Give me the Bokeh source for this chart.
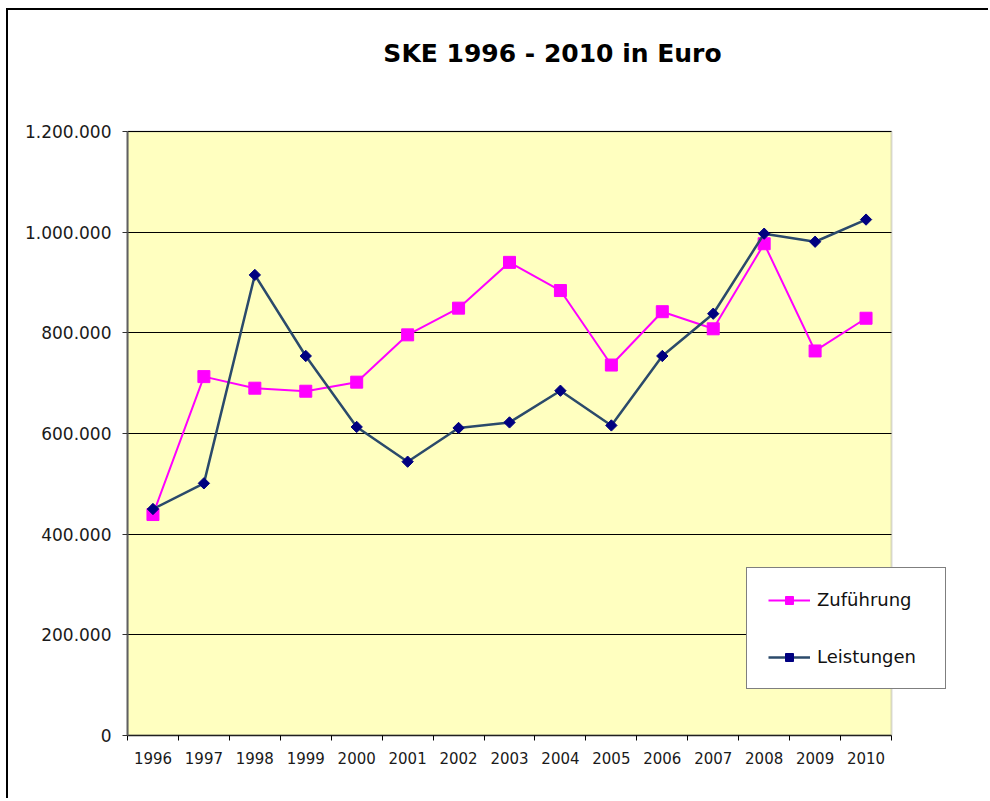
import math
from bokeh.plotting import figure
from bokeh.models import FixedTicker, Range1d, Label, Legend, LegendItem, BoxAnnotation
from bokeh.embed import file_html
from bokeh.resources import INLINE

# ---- data ----
years = [1996, 1997, 1998, 1999, 2000, 2001, 2002, 2003, 2004, 2005, 2006, 2007, 2008, 2009, 2010]
zufuehrung = [439000, 713000, 690000, 684000, 702000, 796000, 849000, 940000,
              884000, 736000, 842000, 808000, 977000, 764000, 829000]
leistungen = [450000, 501000, 915000, 754000, 613000, 544000, 611000, 622000,
              685000, 616000, 754000, 838000, 997000, 981000, 1025000]
y_ticks = [0, 200000, 400000, 600000, 800000, 1000000, 1200000]
y_tick_labels = ["0", "200.000", "400.000", "600.000", "800.000", "1.000.000", "1.200.000"]
x_tick_labels = ["1996", "1997", "1998", "1999", "2000", "2001", "2002", "2003",
                 "2004", "2005", "2006", "2007", "2008", "2009", "2010"]
title_text = "SKE 1996 - 2010 in Euro"
series_names = ["Zuführung", "Leistungen"]

FONT = "DejaVu Sans"

# layout (pixels): plot area 764 x 604 px inside a larger frame
AREA_W, AREA_H = 764, 604
FRAME_W, FRAME_H = 835, 715
x_start = years[0] - 0.5
x_area_end = years[-1] + 0.5
x_end = x_start + (x_area_end - x_start) * FRAME_W / AREA_W
y_end = y_ticks[-1] * FRAME_H / AREA_H

p = figure(width=982, height=790, output_backend="svg", toolbar_location=None,
           x_range=Range1d(x_start, x_end), y_range=Range1d(0, y_end),
           min_border_left=119, min_border_right=28, min_border_top=10, min_border_bottom=65,
           background_fill_color="white", border_fill_color="white")
p.styles = {"margin-left": "6px", "margin-top": "8px",
            "border-left": "2px solid black", "border-top": "2px solid black"}
p.outline_line_color = None

# yellow plot area
area = BoxAnnotation(left=x_start, right=x_area_end, bottom=0, top=y_ticks[-1],
                     fill_color="#FFFFC0", fill_alpha=1,
                     line_color="#808080", line_width=2, level="image")
p.add_layout(area)

# x axis: labels at year centres, tick marks between categories
boundaries = [y - 0.5 for y in years] + [years[-1] + 0.5]
p.xaxis.bounds = (x_start, x_area_end)
p.xaxis.ticker = FixedTicker(ticks=years, minor_ticks=boundaries)
p.xaxis.major_label_overrides = {y: s for y, s in zip(years, x_tick_labels)}
p.xaxis.major_tick_line_color = None
p.xaxis.major_tick_in = 0
p.xaxis.major_tick_out = 0
p.xaxis.minor_tick_in = 0
p.xaxis.minor_tick_out = 5
p.xaxis.minor_tick_line_color = "black"
p.xaxis.axis_line_color = "#202020"
p.xaxis.axis_line_width = 1.5
p.xaxis.major_label_standoff = 11
p.xaxis.major_label_text_font = FONT
p.xaxis.major_label_text_font_size = "15px"
p.xaxis.major_label_text_color = "#1a1a1a"

# y axis
p.yaxis.bounds = (y_ticks[0], y_ticks[-1])
p.yaxis.ticker = FixedTicker(ticks=y_ticks, minor_ticks=[])
p.yaxis.major_label_overrides = {v: s for v, s in zip(y_ticks, y_tick_labels)}
p.yaxis.major_tick_in = 0
p.yaxis.major_tick_out = 5
p.yaxis.major_tick_line_color = "#303030"
p.yaxis.axis_line_color = "#606060"
p.yaxis.axis_line_width = 2
p.yaxis.major_label_standoff = 11
p.yaxis.major_label_text_font = FONT
p.yaxis.major_label_text_font_size = "17px"
p.yaxis.major_label_text_color = "#1a1a1a"

p.xgrid.visible = False
p.ygrid.grid_line_color = "black"
p.ygrid.grid_line_width = 1
p.ygrid.cross_bounds = (x_start, x_area_end)

# series
r1 = p.line(years, zufuehrung, line_color="#FF00FF", line_width=2)
r2 = p.scatter(years, zufuehrung, marker="square", size=12,
               fill_color="#FF00FF", line_color="#FF00FF")
r3 = p.line(years, leistungen, line_color="#2B4A6B", line_width=2.5)
r4 = p.scatter(years, leistungen, marker="square", size=8, angle=math.pi / 4,
               fill_color="#000080", line_color="#000080")

legend = Legend(items=[LegendItem(label=series_names[0], renderers=[r1, r2]),
                       LegendItem(label=series_names[1], renderers=[r3, r4])],
                location=(619, 46), padding=21, spacing=36, glyph_width=42, glyph_height=20,
                label_standoff=7, label_height=20, label_width=107, margin=0,
                label_text_font=FONT, label_text_font_size="18px", label_text_color="#111111",
                border_line_color="black", border_line_width=1,
                background_fill_color="white", background_fill_alpha=1)
p.add_layout(legend)

title = Label(x=425, y=682, x_units="screen", y_units="screen", text=title_text,
              text_align="center", text_baseline="alphabetic", text_font=FONT,
              text_font_size="25px", text_font_style="bold", text_color="black")
p.add_layout(title)

open("out.html", "w").write(file_html(p, INLINE))
